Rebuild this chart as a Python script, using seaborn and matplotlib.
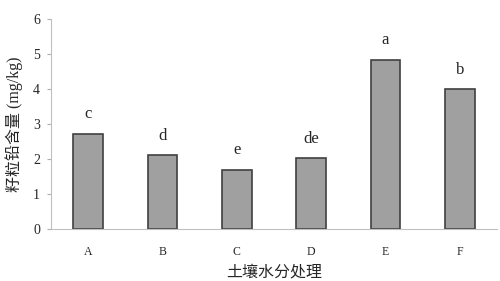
import matplotlib
matplotlib.use("Agg")
import matplotlib.pyplot as plt
import seaborn as sns
import numpy as np

# data
treatments = ["A", "B", "C", "D", "E", "F"]
lead_content = [2.73, 2.11, 1.69, 2.02, 4.83, 3.99]
sig_letters = ["c", "d", "e", "de", "a", "b"]

sns.set_style("white")
plt.rcParams["font.family"] = ["Liberation Serif", "Noto Sans CJK SC"]

fig = plt.figure(figsize=(5, 2.81), dpi=100)
ax = fig.add_axes([0.102, 0.185, 0.892, 0.747])

sns.barplot(x=treatments, y=lead_content, width=0.4, color="#a0a0a0",
            saturation=1, edgecolor="#404040", linewidth=1.2, ax=ax)

for i, (v, s) in enumerate(zip(lead_content, sig_letters)):
    ax.text(i, v + 0.33, s, ha="center", va="bottom", fontsize=12,
            family="Liberation Serif")

ax.set_ylim(0, 6)
ax.set_xlim(-0.5, 5.5)
ax.set_yticks(range(0, 7))

# ticks between categories on the x axis
ax.set_xticks(np.arange(-0.5, 6, 1), minor=True)
ax.tick_params(axis="x", which="major", length=0, pad=12, labelsize=8.5)
ax.tick_params(axis="x", which="minor", direction="in", length=3, color="#b0b0b0")
ax.tick_params(axis="y", which="major", direction="out", length=3, color="#b0b0b0",
               pad=5, labelsize=10, left=True)

for side in ["top", "right"]:
    ax.spines[side].set_visible(False)
for side in ["left", "bottom"]:
    ax.spines[side].set_color("#c0c0c0")
    ax.spines[side].set_linewidth(0.8)

ax.set_xlabel("土壤水分处理", fontsize=11.5, family=["Noto Sans CJK SC"], labelpad=4)
ax.set_ylabel("籽粒铅含量 (mg/kg)", fontsize=11.5,
              family=["Liberation Serif", "Noto Sans CJK SC"], labelpad=7)

fig.savefig("out.png", dpi=100)
